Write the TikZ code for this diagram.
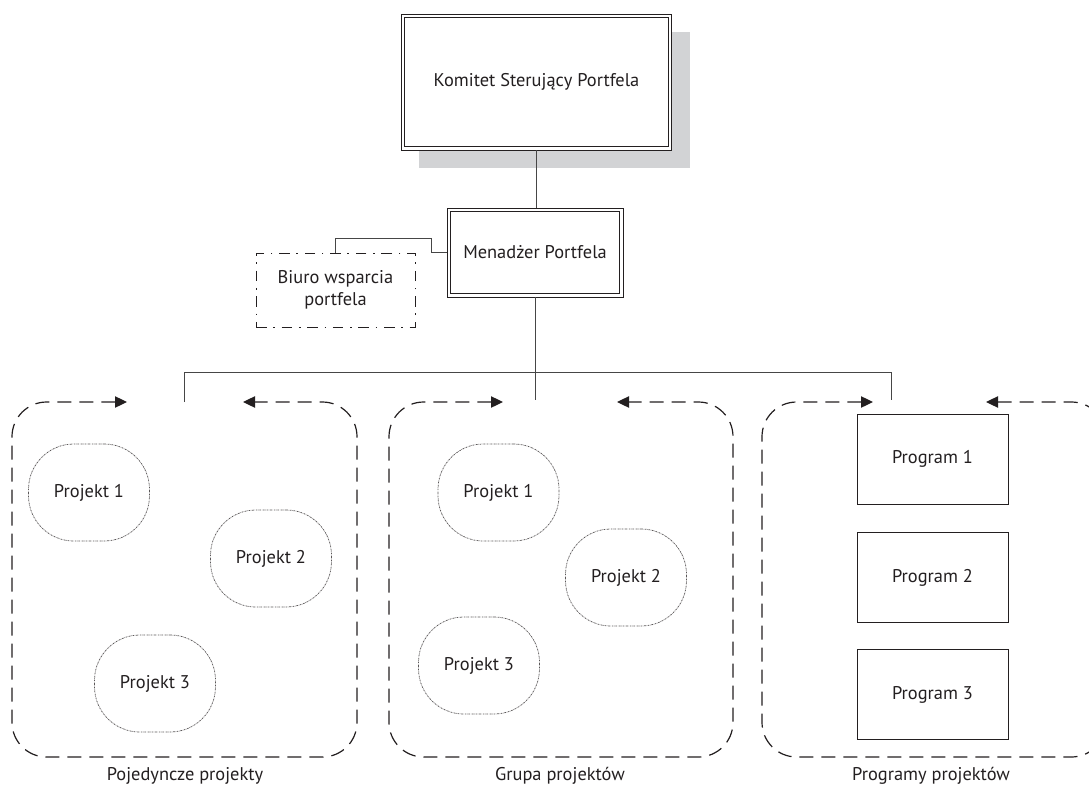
\documentclass[tikz,border=0pt]{standalone}
\usepackage{fontspec}
\setmainfont{PT Sans}
\usetikzlibrary{arrows.meta}
\definecolor{shadowgray}{RGB}{210,211,213}
\definecolor{ink}{RGB}{35,31,32}
\definecolor{linegray}{RGB}{70,70,70}
\tikzset{
  every node/.style={font=\fontsize{13.8pt}{16.5pt}\selectfont, text=ink, outer sep=0pt, inner sep=0pt, align=center},
  dblbox/.style={draw=ink, line width=0.75pt, rectangle, fill=white},
  innerline/.style={draw=ink, line width=0.75pt},
  biurobox/.style={draw=ink, line width=0.75pt, dash pattern=on 8pt off 5pt on 1.2pt off 5pt, minimum width=119.25pt, minimum height=55.5pt},
  projbox/.style={draw=ink!75, line width=0.55pt, dash pattern=on 1.2pt off 0.6pt on 0.3pt off 0.6pt, rounded corners=34pt, minimum width=90.75pt, minimum height=72.75pt},
  progbox/.style={draw=ink, line width=0.7pt, minimum width=113.25pt, minimum height=67.5pt},
  conn/.style={draw=linegray, line width=0.7pt},
  grp/.style={draw=ink, line width=0.9pt, dash pattern=on 10.5pt off 6pt, rounded corners=26pt, {Triangle[length=9pt,width=8.5pt]}-{Triangle[length=9pt,width=8.5pt]}},
  grplabel/.style={}
}
\begin{document}
\begin{tikzpicture}[x=0.75pt,y=-0.75pt]
\useasboundingbox (0,0) rectangle (1089,785);
% shadow
\fill[shadowgray] (419,32) rectangle (690,168);
% top boxes
\node[dblbox, minimum width=203pt, minimum height=102pt] (kom) at (536.5,82) {Komitet Sterujący Portfela};
\draw[innerline] ([shift={(2.4pt,-2.4pt)}]kom.north west) rectangle ([shift={(-2.4pt,2.4pt)}]kom.south east);
\node[dblbox, minimum width=132pt, minimum height=66.75pt] (men) at (535,252.5) {Menadżer Portfela};
\draw[innerline] ([shift={(2.4pt,-2.4pt)}]men.north west) rectangle ([shift={(-2.4pt,2.4pt)}]men.south east);
\node[biurobox] (biuro) at (335.5,290) {Biuro wsparcia\\portfela};
% connectors
\coordinate (k1) at (431,238);
\draw[conn] (kom.south) -- (kom.south |- men.north);
\draw[conn] (biuro.north) |- (k1) |- (men.west);
\coordinate (bus1) at (184,372);
\coordinate (bus3) at (891,372);
\coordinate (d1) at (184,402);
\coordinate (d2) at (535,400);
\coordinate (d3) at (891,400);
\draw[conn] (men.south) -- (d2);
\draw[conn] (d1) -- (bus1) -- (bus3) -- (d3);
% groups
\draw[grp] (127,402) -| (12,757) -| (357,402) -- (243,402);
\draw[grp] (503,402) -| (389,757) -| (733,402) -- (617,402);
\draw[grp] (873,402) -| (762,757) -| (1106,402) -- (986,402);
% group 1 projects
\node[projbox] (g1p1) at (89,492.5) {Projekt 1};
\node[projbox] (g1p2) at (271,558.5) {Projekt 2};
\node[projbox] (g1p3) at (155,683.5) {Projekt 3};
% group 2 projects
\node[projbox] (g2p1) at (498.5,492.5) {Projekt 1};
\node[projbox] (g2p2) at (626,577.5) {Projekt 2};
\node[projbox] (g2p3) at (479,665.5) {Projekt 3};
% programs
\node[progbox] (pr1) at (932.5,459) {Program 1};
\node[progbox] (pr2) at (932.5,577.5) {Program 2};
\node[progbox] (pr3) at (932.5,694.5) {Program 3};
% labels
\node[grplabel] (l1) at (185,776) {Pojedyncze projekty};
\node[grplabel] (l2) at (560,776) {Grupa projektów};
\node[grplabel] (l3) at (931,776) {Programy projektów};
\end{tikzpicture}
\end{document}
